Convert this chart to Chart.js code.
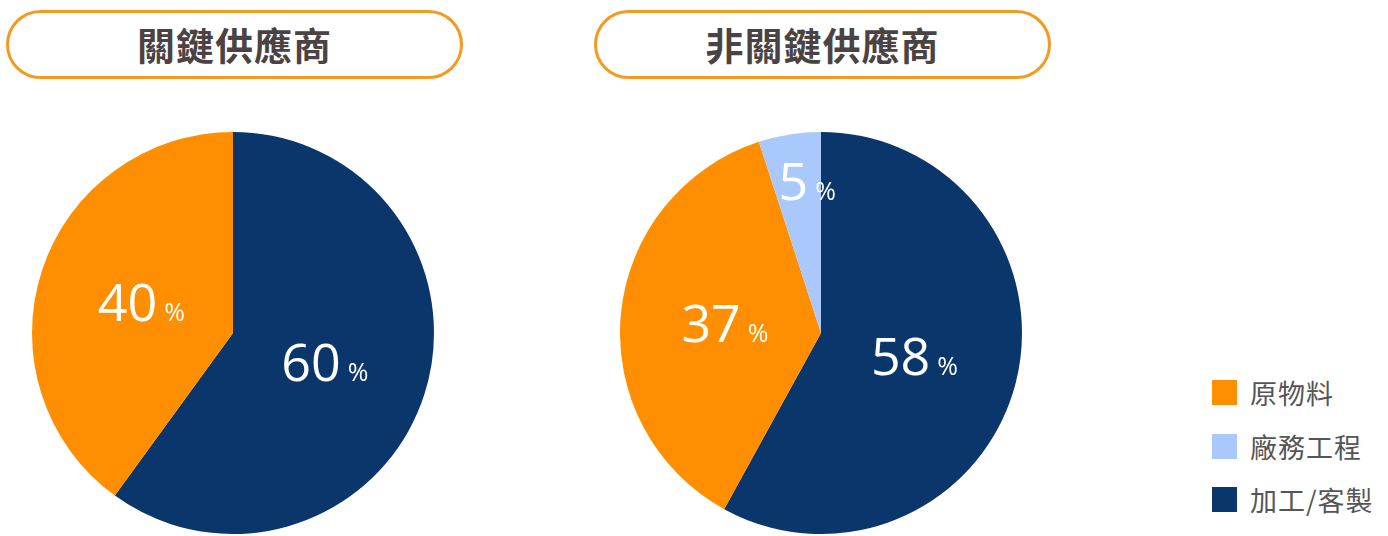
<!DOCTYPE html>
<html>
<head>
<meta charset="utf-8">
<script src="https://cdn.jsdelivr.net/npm/chart.js@4.4.1/dist/chart.umd.min.js"></script>
<style>
  body { margin: 0; background: #fff; font-family: "Noto Sans CJK TC", "Noto Sans", sans-serif; }
  .page { position: relative; width: 1388px; height: 536px; overflow: hidden; }
  .title {
    position: absolute; top: 10px; height: 63px; width: 451px;
    border: 3px solid #f39a22; border-radius: 36px;
    display: flex; align-items: center; justify-content: center;
    font-size: 38px; font-weight: 700; color: #4b4343; letter-spacing: 1px;
    line-height: 1; padding-bottom: 2px; box-sizing: content-box;
  }
  .pie { position: absolute; top: 132px; width: 402px; height: 402px; }
  .legend { position: absolute; left: 1212px; top: 366px; }
  .legend .row { display: flex; align-items: center; height: 53.5px; }
  .legend .box { width: 25px; height: 25px; margin-right: 13px; }
  .legend .txt { font-size: 27px; color: #555; letter-spacing: 1px; }
</style>
</head>
<body>
<div class="page">
  <div class="title" style="left:6px;height:61px">關鍵供應商</div>
  <div class="title" style="left:594px;height:61px">非關鍵供應商</div>
  <div class="pie" style="left:32px"><canvas id="pieKey"></canvas></div>
  <div class="pie" style="left:620px"><canvas id="pieNonKey"></canvas></div>
  <div class="legend" id="legend"></div>
</div>
<script>
// data
const categories = ['加工/客製', '原物料', '廠務工程'];
const keyValues = [60, 40, 0];
const nonKeyValues = [58, 37, 5];
const colors = ['#0b366b', '#ff8f00', '#a9c8fb'];
const legendOrder = ['原物料', '廠務工程', '加工/客製'];

// percent labels inside slices
const pctLabels = {
  id: 'pctLabels',
  afterDatasetsDraw(chart) {
    const ctx = chart.ctx;
    const values = chart.data.datasets[0].data;
    const total = values.reduce((a, b) => a + b, 0);
    chart.getDatasetMeta(0).data.forEach((arc, i) => {
      const v = values[i];
      if (!v) return;
      const mid = (arc.startAngle + arc.endAngle) / 2;
      const small = v / total < 0.1;
      const f = small ? 0.76 : 0.48;
      const x = arc.x + Math.cos(mid) * arc.outerRadius * f + (small ? 10 : 0);
      const y = arc.y + Math.sin(mid) * arc.outerRadius * f;
      ctx.save();
      ctx.fillStyle = '#fff';
      ctx.textBaseline = 'alphabetic';
      ctx.textAlign = 'left';
      const num = String(v);
      ctx.font = '52px "Open Sans"';
      const nw = ctx.measureText(num).width;
      ctx.font = '25px "Open Sans"';
      const pw = ctx.measureText('%').width;
      const gap = 7;
      const sx = x - (nw + gap + pw) / 2;
      const by = y + 18;
      ctx.font = '52px "Open Sans"';
      ctx.fillText(num, sx, by);
      ctx.font = '25px "Open Sans"';
      ctx.fillText('%', sx + nw + gap, by);
      ctx.restore();
    });
  }
};

function makePie(id, values) {
  return new Chart(document.getElementById(id), {
    type: 'pie',
    data: {
      labels: categories,
      datasets: [{
        data: values,
        backgroundColor: colors,
        borderWidth: 0
      }]
    },
    options: {
      responsive: true,
      maintainAspectRatio: false,
      animation: false,
      layout: { padding: 0 },
      plugins: {
        legend: { display: false },
        tooltip: { enabled: false }
      }
    },
    plugins: [pctLabels]
  });
}

makePie('pieKey', keyValues);
makePie('pieNonKey', nonKeyValues);

// legend
const legendEl = document.getElementById('legend');
legendOrder.forEach(name => {
  const row = document.createElement('div');
  row.className = 'row';
  const box = document.createElement('div');
  box.className = 'box';
  box.style.background = colors[categories.indexOf(name)];
  const txt = document.createElement('div');
  txt.className = 'txt';
  txt.textContent = name;
  row.appendChild(box);
  row.appendChild(txt);
  legendEl.appendChild(row);
});
</script>
</body>
</html>
